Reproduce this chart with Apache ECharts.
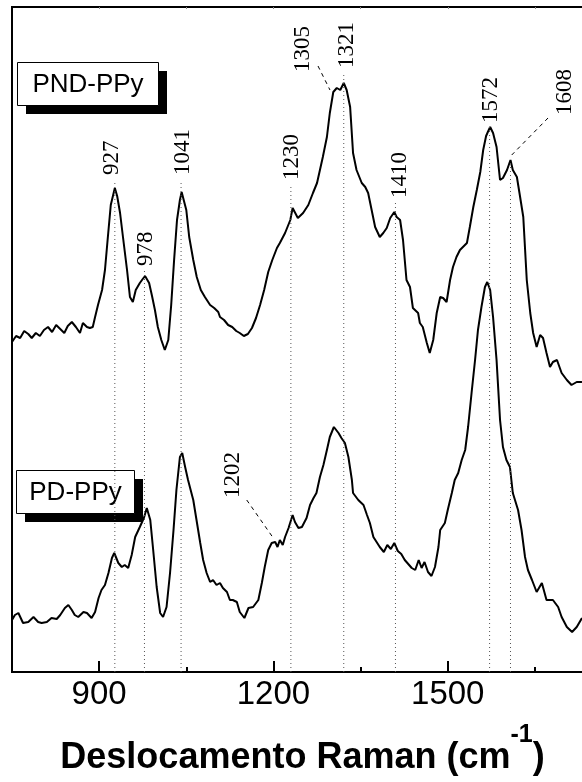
<!DOCTYPE html>
<html>
<head>
<meta charset="utf-8">
<script src="https://cdn.jsdelivr.net/npm/echarts@6/dist/echarts.min.js"></script>
<style>
html,body{margin:0;padding:0;background:#fff;}
#chart{width:582px;height:782px;}
</style>
</head>
<body>
<div id="chart"></div>
<script>
// ---------- DATA ----------
const shiftPND = [750,757,764,771,778,784,791,798,805,812,
819,826,833,840,846,853,860,867,872,879,
884,889,893,898,905,910,915,920,927,931,
936,941,948,953,958,963,970,975,979,986,
991,996,1001,1007,1013,1019,1024,1029,1034,1039,
1042,1050,1055,1062,1068,1075,1082,1091,1098,1105,
1108,1115,1122,1129,1136,1142,1149,1156,1163,1170,
1177,1184,1191,1198,1206,1211,1220,1229,1233,1242,
1251,1260,1268,1275,1280,1285,1292,1297,1303,1309,
1315,1321,1326,1332,1337,1343,1352,1358,1363,1369,
1375,1383,1389,1395,1401,1408,1412,1418,1423,1429,
1435,1440,1449,1452,1457,1464,1469,1475,1481,1487,
1492,1498,1504,1509,1515,1521,1533,1538,1544,1550,
1556,1561,1566,1569,1573,1578,1584,1590,1595,1602,
1608,1612,1619,1624,1630,1636,1642,1647,1653,1659,
1664,1670,1676,1681,1688,1696,1705,1713,1722,1731];
const intensityPND = [330,336,334,341,338,334,339,336,342,345,
340,347,343,339,346,350,345,339,349,345,
344,345,355,367,382,402,435,467,484,476,
459,435,402,375,370,382,389,393,396,389,
376,362,345,332,322,332,367,412,452,472,
480,462,435,412,395,382,375,367,364,360,
355,352,347,345,341,339,336,338,344,354,
367,382,400,412,424,429,439,452,464,454,
459,467,479,489,502,515,535,559,580,584,
582,589,582,565,519,502,489,485,479,462,
445,435,439,444,454,460,455,452,432,392,
385,364,359,349,345,329,319,332,359,375,
374,370,392,405,415,422,429,445,465,482,
500,522,536,540,545,539,525,492,494,502,
512,502,495,477,455,392,359,339,325,337,
334,319,305,310,312,299,292,287,290,290];

const shiftPD = [750,755,761,769,778,787,795,801,810,818,
827,833,841,847,853,858,864,873,879,887,
893,899,904,910,916,922,926,933,939,944,
950,956,962,970,977,982,988,993,999,1005,
1010,1016,1022,1028,1033,1039,1043,1048,1053,1062,
1074,1079,1085,1091,1096,1102,1108,1113,1120,1125,
1130,1137,1142,1150,1157,1165,1174,1180,1185,1191,
1197,1203,1207,1211,1216,1220,1226,1233,1237,1243,
1249,1257,1263,1269,1274,1280,1286,1292,1297,1304,
1312,1317,1323,1329,1335,1337,1346,1355,1361,1366,
1372,1383,1390,1396,1402,1408,1414,1420,1426,1432,
1438,1444,1450,1455,1460,1466,1472,1478,1484,1487,
1495,1500,1507,1512,1518,1524,1530,1535,1541,1547,
1552,1558,1564,1568,1573,1578,1584,1590,1595,1601,
1607,1612,1621,1627,1633,1638,1645,1653,1662,1670,
1681,1690,1696,1705,1714,1722,1731];
const intensityPD = [52,57,59,49,50,55,50,49,50,54,
53,57,64,67,62,57,55,60,59,54,
60,74,82,87,99,114,119,109,105,107,
104,117,135,145,154,164,152,122,85,59,
55,65,99,142,182,215,219,205,192,172,
129,112,99,90,92,87,89,84,80,72,
72,70,60,54,64,65,72,89,105,122,
129,130,125,132,127,135,144,157,150,144,
145,154,167,174,179,195,207,222,235,245,
239,234,229,215,192,179,172,167,157,149,
135,125,120,127,123,129,121,118,112,108,
104,102,112,104,110,100,96,105,125,142,
149,162,179,192,199,212,222,245,279,312,
342,365,385,390,382,355,312,252,225,212,
205,179,162,142,115,102,92,80,89,72,
72,65,55,45,40,45,54];

const seriesNames = ['PND-PPy', 'PD-PPy'];
const majorTicks = [900, 1200, 1500];
const minorTicks = [1050, 1350, 1650];
const topTicks = [900, 1050, 1200, 1350, 1500, 1650];
const peakLabels = ['927','978','1041','1202','1230','1305','1321','1410','1572','1608'];
const peakPositions = [927, 978, 1041, 1202, 1230, 1305, 1321, 1410, 1572, 1608];

// ---------- ANNOTATION LAYOUT (placement only) ----------
const annotationLayout = {
  '927':  {text: [921.6, 497], line: 492},
  '978':  {text: [980.6, 406], line: 402},
  '1041': {text: [1044.3, 497], line: 492},
  '1202': {text: [1130.9, 174], leader: [[1154, 172], [1199.7, 134]]},
  '1230': {text: [1231.4, 492], line: 488},
  '1305': {text: [1250.9, 600], leader: [[1276.7, 606], [1297.3, 582]]},
  '1321': {text: [1326.1, 604], line: 600},
  '1410': {text: [1417, 474], line: 470},
  '1572': {text: [1574.1, 549], line: 545},
  '1608': {text: [1701.8, 557], line: 512, leader: [[1672.6, 554], [1610.1, 517]]}
};

function zip(a, b) { return a.map((v, i) => [v, b[i]]); }

const chart = echarts.init(document.getElementById('chart'), null, {renderer: 'canvas'});

function renderAnnot(params, api) {
  const i = params.dataIndex;
  const key = peakLabels[i];
  const lay = annotationLayout[key];
  const children = [];
  if (lay.line != null) {
    const a = api.coord([peakPositions[i], 0]);
    const b = api.coord([peakPositions[i], lay.line]);
    children.push({type: 'line', shape: {x1: a[0], y1: a[1], x2: b[0], y2: b[1]},
      style: {stroke: '#555', lineWidth: 1, lineDash: [1, 3]}});
  }
  if (lay.leader) {
    const p = api.coord(lay.leader[0]);
    const q = api.coord(lay.leader[1]);
    children.push({type: 'line', shape: {x1: p[0], y1: p[1], x2: q[0], y2: q[1]},
      style: {stroke: '#000', lineWidth: 1, lineDash: [4, 4]}});
  }
  const t = api.coord(lay.text);
  children.push({type: 'text', x: t[0], y: t[1], rotation: Math.PI / 2,
    style: {text: key, font: '23px "Liberation Serif", "Times New Roman", serif', fill: '#000',
      align: 'left', verticalAlign: 'middle'}});
  return {type: 'group', children: children};
}

const FONT = '"Liberation Sans", Arial, sans-serif';

const option = {
  animation: false,
  backgroundColor: '#fff',
  grid: {left: 12, right: -11, top: 7, bottom: 110, show: true, borderColor: '#000', borderWidth: 2,
    containLabel: false, outerBoundsMode: 'none'},
  xAxis: [
    {type: 'value', min: 750, max: 1750, interval: 150, position: 'bottom',
      axisLine: {show: true, onZero: false, lineStyle: {color: '#000', width: 2}},
      axisTick: {show: true, inside: true, length: 11, customValues: majorTicks, lineStyle: {color: '#000', width: 2}},
      axisLabel: {show: true, customValues: majorTicks, color: '#000', fontSize: 33, margin: 6,
        fontFamily: FONT, formatter: function (v) { return String(v); }},
      splitLine: {show: false},
      name: '{m|Deslocamento Raman (cm}{s|-1}{m|)}',
      nameLocation: 'middle', nameGap: 58,
      nameTextStyle: {rich: {
        m: {fontSize: 36, fontWeight: 'bold', color: '#000', fontFamily: FONT, lineHeight: 40, padding: [17, 0, 0, 0]},
        s: {fontSize: 25, fontWeight: 'bold', color: '#000', fontFamily: FONT, lineHeight: 24, padding: [0, 0, 30, 0]}
      }}
    },
    {type: 'value', min: 750, max: 1750, interval: 150, position: 'bottom',
      axisLine: {show: false, onZero: false},
      axisTick: {show: true, inside: true, length: 5, customValues: minorTicks, lineStyle: {color: '#000', width: 2}},
      axisLabel: {show: false}, splitLine: {show: false}},
    {type: 'value', min: 750, max: 1750, interval: 150, position: 'top',
      axisLine: {show: false, onZero: false},
      axisTick: {show: true, inside: true, length: 2, customValues: topTicks, lineStyle: {color: '#888', width: 1}},
      axisLabel: {show: false}, splitLine: {show: false}}
  ],
  yAxis: {type: 'value', min: 0, max: 665, show: false},
  graphic: [
    {type: 'rect', z: 1, shape: {x: 26, y: 71, width: 141, height: 43}, style: {fill: '#000'}},
    {type: 'rect', z: 1, shape: {x: 17.5, y: 62.5, width: 141, height: 43}, style: {fill: '#fff', stroke: '#000', lineWidth: 1}},
    {type: 'text', z: 1, x: 88, y: 85, style: {text: seriesNames[0], font: '26px ' + FONT, fill: '#000', align: 'center', verticalAlign: 'middle'}},
    {type: 'rect', z: 1, shape: {x: 25, y: 479, width: 118, height: 43}, style: {fill: '#000'}},
    {type: 'rect', z: 1, shape: {x: 16.5, y: 470.5, width: 118, height: 43}, style: {fill: '#fff', stroke: '#000', lineWidth: 1}},
    {type: 'text', z: 1, x: 75.5, y: 493, style: {text: seriesNames[1], font: '26px ' + FONT, fill: '#000', align: 'center', verticalAlign: 'middle'}}
  ],
  series: [
    {name: seriesNames[0], type: 'line', data: zip(shiftPND, intensityPND), showSymbol: false, symbol: 'none',
      lineStyle: {color: '#000', width: 2}, z: 3, silent: true},
    {name: seriesNames[1], type: 'line', data: zip(shiftPD, intensityPD), showSymbol: false, symbol: 'none',
      lineStyle: {color: '#000', width: 2}, z: 3, silent: true},
    {type: 'custom', renderItem: renderAnnot, data: peakPositions.map((p, i) => [p, i]),
      clip: false, z: 5, silent: true}
  ]
};
chart.setOption(option);
</script>
</body>
</html>
